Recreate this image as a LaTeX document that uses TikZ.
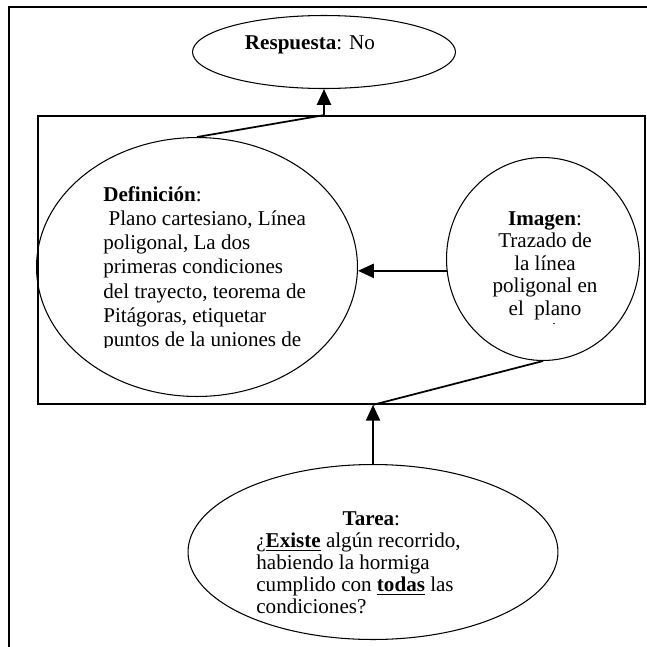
\documentclass[tikz,border=0pt]{standalone}
\usepackage{fontspec}
\setmainfont{Liberation Serif}
\usetikzlibrary{shapes.geometric,arrows.meta}
\begin{document}
\begin{tikzpicture}[x=0.02cm, y=-0.02cm,
        oval/.style={draw, ellipse, line width=0.6pt, inner sep=0pt},
        txt/.style={inner sep=0pt, font=\fontsize{12}{12.6}\selectfont},
        arrow/.style={-{Triangle[length=9pt,width=8pt]}, line width=1.2pt},
        link/.style={line width=1pt}
      ]
      \useasboundingbox (0,0) rectangle (647,647);
      \draw[line width=1.2pt] (9,647) -- (9,7) -- (647,7);

      \node[draw, line width=1pt, inner sep=0pt, minimum width=12.14cm, minimum height=5.76cm] (panel) at (341.5,260) {};
      \node[oval, minimum width=5.26cm, minimum height=1.46cm] (respuesta) at (324,52) {};
      \node[oval, minimum width=6.42cm, minimum height=5.18cm] (definicion) at (197,267) {};
      \node[oval, minimum width=3.86cm, minimum height=4.06cm] (imagen) at (543,259) {};
      \node[oval, minimum width=7.4cm, minimum height=3.5cm] (tarea) at (373,552) {};

      \node[txt] (respuestatxt) at (310,45) {\textbf{Respuesta}: No};
      \begin{scope}
        \clip (0,0) rectangle (647,347);
        \node[txt, font=\fontsize{12}{13.8}\selectfont, align=left, anchor=north west] (definiciontxt) at (103,186)
          {\textbf{Definición}:\\ \hspace*{0.25em}Plano cartesiano, Línea\\ poligonal, La dos\\ primeras condiciones\\ del trayecto, teorema de\\ Pitágoras, etiquetar\\ puntos de la uniones de};
      \end{scope}
      \begin{scope}
        \clip (0,0) rectangle (647,323);
        \node[txt, font=\fontsize{12}{12.8}\selectfont, align=center, anchor=north] (imagentxt) at (545,211)
          {\textbf{Imagen}:\\ Trazado de\\ la línea\\ poligonal en\\ el\ \ plano\\ cartesiano};
      \end{scope}
      \node[txt, align=left, anchor=north west] (tareatxt) at (256,511)
        {\makebox[4.6cm]{\textbf{Tarea}:}\\ ¿\underline{\textbf{Existe}} algún recorrido,\\ habiendo la hormiga\\ cumplido con \underline{\textbf{todas}} las\\ condiciones?};

      \draw[arrow] (panel.north -| respuesta) -- (respuesta);
      \draw[link] (panel.north -| respuesta) -- (definicion.north);
      \draw[arrow] (imagen.187) -- (imagen.187 -| definicion.east);
      \draw[arrow] (tarea) -- (tarea.north |- panel.south);
      \draw[link] (tarea.north |- panel.south) -- (imagen.south);
    \end{tikzpicture}
\end{document}
